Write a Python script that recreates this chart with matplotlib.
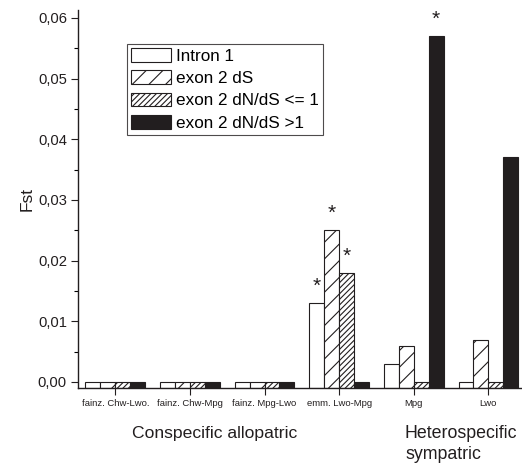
import matplotlib
matplotlib.use("Agg")
import matplotlib.pyplot as plt
import numpy as np
from matplotlib.patches import Patch
from matplotlib.ticker import MultipleLocator

plt.rcParams['font.family'] = ['Liberation Sans', 'DejaVu Sans']
plt.rcParams['hatch.linewidth'] = 0.8

groups = ["fainz. Chw-Lwo.", "fainz. Chw-Mpg", "fainz. Mpg-Lwo", "emm. Lwo-Mpg", "Mpg", "Lwo"]
series = ["Intron 1", "exon 2 dS", "exon 2 dN/dS <= 1", "exon 2 dN/dS >1"]
intron1 = [0.0, 0.0, 0.0, 0.013, 0.003, 0.0]
exon2_dS = [0.0, 0.0, 0.0, 0.025, 0.006, 0.007]
exon2_le1 = [0.0, 0.0, 0.0, 0.018, 0.0, 0.0]
exon2_gt1 = [0.0, 0.0, 0.0, 0.0, 0.057, 0.037]
# significance markers: (group index, series index)
stars = [(3, 0), (3, 1), (3, 2), (4, 3)]

values = [intron1, exon2_dS, exon2_le1, exon2_gt1]
faces = ["white", "white", "white", "#221e1f"]
hatches = [None, "//", "//////", None]
ink = "#221e1f"

fig = plt.figure(figsize=(5.22, 4.65), dpi=100)
ax = fig.add_axes([0.1494, 0.1656, 0.8506, 0.8129])
ymin, ymax = -0.00099, 0.0613
x = np.arange(len(groups))
w = 0.2
for i, (vals, fc, h) in enumerate(zip(values, faces, hatches)):
    pos = x + (i - 1.5) * w
    v = np.array(vals)
    ax.bar(pos, v - ymin, bottom=ymin, width=w, color=fc, edgecolor=ink,
           hatch=h, linewidth=0.8, label=series[i])

for g, s in stars:
    ax.text(x[g] + (s - 1.5) * w, values[s][g] + 0.0012, "*", ha="center", va="bottom",
            fontsize=15, color=ink)

ax.set_xlim(-0.5, 5.45)
ax.set_ylim(ymin, ymax)
ax.set_xticks(x)
ax.set_xticklabels(groups, fontsize=6.8)
ax.yaxis.set_minor_locator(MultipleLocator(0.005))
yt = np.arange(0, 0.061, 0.01)
ax.set_yticks(yt)
ax.set_yticklabels([f"{t:.2f}".replace(".", ",") for t in yt], fontsize=10.6)
ax.tick_params(axis="both", direction="out", width=0.8, colors=ink)
ax.tick_params(axis="y", which="major", length=5, pad=3)
ax.tick_params(axis="y", which="minor", length=3, width=0.8)
ax.tick_params(axis="x", length=5, pad=3)
for sp in ["top", "right"]:
    ax.spines[sp].set_visible(False)
for sp in ["left", "bottom"]:
    ax.spines[sp].set_linewidth(1.0)
    ax.spines[sp].set_color(ink)
ax.set_ylabel("Fst", fontsize=12.5, labelpad=2, color=ink)

fig.text(215 / 522, 1 - 433 / 465, "Conspecific allopatric", ha="center", va="center",
         fontsize=12.6, color=ink)
fig.text(405 / 522, 1 - 444 / 465, "Heterospecific\nsympatric", ha="left", va="center",
         fontsize=12.8, linespacing=1.32, color=ink)

handles = [Patch(facecolor=fc, edgecolor=ink, hatch=h, linewidth=0.8)
           for fc, h in zip(faces, hatches)]
leg = ax.legend(handles, series, loc="upper left",
                bbox_to_anchor=((127 - 78) / 444, (388 - 44) / 378), fontsize=12.3,
                frameon=True, fancybox=False, edgecolor=ink, handlelength=2.3,
                handleheight=0.85, handletextpad=0.3, labelspacing=0.38, borderpad=0.25,
                borderaxespad=0)
leg.get_frame().set_linewidth(0.8)

fig.savefig("out.png", dpi=100)
